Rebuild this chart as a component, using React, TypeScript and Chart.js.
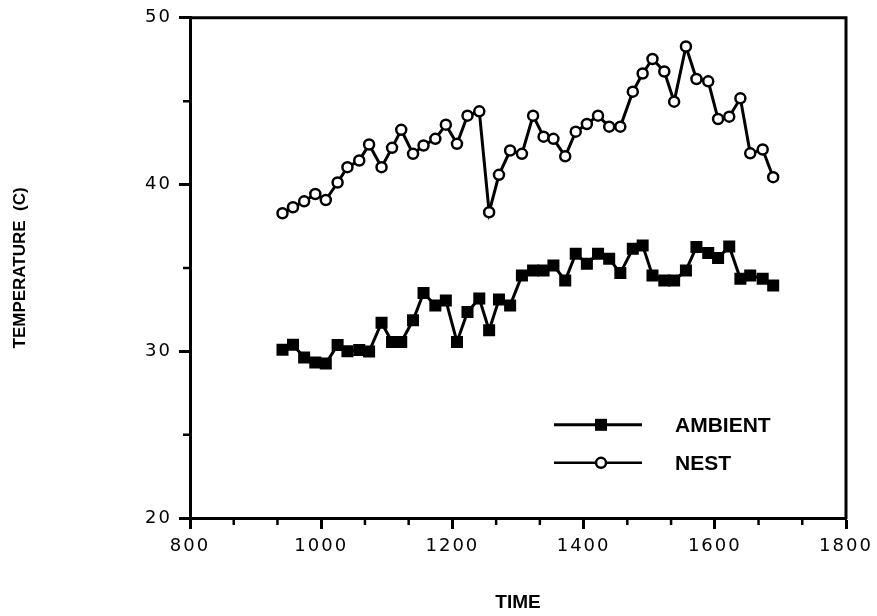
import React, { useEffect, useRef } from "react";
import { Chart, registerables } from "chart.js";

Chart.register(...registerables);

const times = [941, 957, 974, 991, 1007, 1025, 1040, 1058, 1073, 1092, 1108, 1122, 1140, 1156, 1174, 1190, 1207, 1223, 1241, 1256, 1271, 1288, 1306, 1323, 1339, 1354, 1372, 1388, 1405, 1422, 1439, 1456, 1475, 1490, 1505, 1523, 1538, 1556, 1572, 1590, 1605, 1622, 1639, 1654, 1673, 1689];

const ambient = [30.09, 30.39, 29.63, 29.33, 29.26, 30.38, 30.0, 30.08, 29.98, 31.71, 30.56, 30.56, 31.86, 33.49, 32.75, 33.05, 30.56, 32.35, 33.16, 31.26, 33.1, 32.75, 34.55, 34.85, 34.85, 35.15, 34.25, 35.85, 35.25, 35.85, 35.55, 34.69, 36.15, 36.35, 34.55, 34.25, 34.25, 34.85, 36.25, 35.89, 35.59, 36.29, 34.35, 34.55, 34.35, 33.95];

const nest = [38.28, 38.64, 38.99, 39.43, 39.07, 40.12, 41.04, 41.44, 42.4, 41.04, 42.2, 43.28, 41.84, 42.34, 42.74, 43.59, 42.44, 44.13, 44.39, 38.34, 40.58, 42.04, 41.84, 44.13, 42.87, 42.74, 41.69, 43.17, 43.63, 44.13, 43.47, 43.47, 45.57, 46.66, 47.53, 46.78, 44.97, 48.28, 46.33, 46.19, 43.93, 44.07, 45.17, 41.87, 42.1, 40.44];

const seriesNames = ["AMBIENT", "NEST"];
const xTitle = "TIME";
const yTitle = "TEMPERATURE  (C)";
const xRange = [800, 1800];
const yRange = [20, 50];
const xStep = 200;
const yStep = 10;

const framePlugin = {
  id: "frameAndLegend",
  afterDatasetsDraw(chart: any) {
    chart.ctx.letterSpacing = "2px";
  },
  afterDraw(chart: any) {
    const ctx = chart.ctx;
    ctx.letterSpacing = "0px";
    ctx.save();
    const { left, right, top, bottom } = chart.chartArea;
    ctx.strokeStyle = "#000";
    ctx.lineWidth = 3;
    ctx.beginPath();
    ctx.moveTo(left - 1, top);
    ctx.lineTo(right, top);
    ctx.lineTo(right, bottom + 1);
    ctx.stroke();

    const xs = chart.scales.x;
    const ys = chart.scales.y;
    ctx.lineWidth = 2.5;
    ctx.beginPath();
    for (let v = xRange[0]; v < xRange[1]; v += xStep) {
      for (let k = 1; k < 3; k++) {
        const px = xs.getPixelForValue(v + (xStep * k) / 3);
        ctx.moveTo(px, bottom);
        ctx.lineTo(px, bottom + 7);
      }
    }
    for (let v = yRange[0]; v < yRange[1]; v += yStep) {
      const py = ys.getPixelForValue(v + yStep / 2);
      ctx.moveTo(left, py);
      ctx.lineTo(left - 7, py);
    }
    ctx.stroke();

    const lx0 = left + 364;
    const lx1 = left + 452;
    const mx = left + 411;
    const ya = top + 407;
    const yn = top + 445;
    ctx.lineWidth = 3;
    ctx.beginPath();
    ctx.moveTo(lx0, ya);
    ctx.lineTo(lx1, ya);
    ctx.stroke();
    ctx.fillStyle = "#000";
    ctx.fillRect(mx - 6, ya - 6, 12, 12);

    ctx.lineWidth = 2.5;
    ctx.beginPath();
    ctx.moveTo(lx0, yn);
    ctx.lineTo(lx1, yn);
    ctx.stroke();
    ctx.beginPath();
    ctx.arc(mx, yn, 5, 0, Math.PI * 2);
    ctx.fillStyle = "#fff";
    ctx.fill();
    ctx.stroke();

    ctx.fillStyle = "#000";
    ctx.font = "bold 21px 'Liberation Sans', Arial, sans-serif";
    ctx.textAlign = "left";
    ctx.textBaseline = "middle";
    ctx.fillText(seriesNames[0], left + 485, ya + 1);
    ctx.fillText(seriesNames[1], left + 485, yn + 1);
    ctx.restore();
  },
};

const plainTick = (v: any) => String(v);

export default function App() {
  const ref = useRef<HTMLCanvasElement>(null);
  useEffect(() => {
    document.body.style.margin = "0";
    const canvas = ref.current;
    if (!canvas) return;
    const chart = new Chart(canvas, {
      type: "line",
      data: {
        datasets: [
          {
            label: seriesNames[0],
            data: times.map((t, i) => ({ x: t, y: ambient[i] })),
            borderColor: "#000",
            borderWidth: 3,
            pointStyle: "rect",
            pointRadius: 8.5,
            pointBackgroundColor: "#000",
            pointBorderColor: "#000",
            pointBorderWidth: 0,
            tension: 0,
          },
          {
            label: seriesNames[1],
            data: times.map((t, i) => ({ x: t, y: nest[i] })),
            borderColor: "#000",
            borderWidth: 3,
            pointStyle: "circle",
            pointRadius: 5,
            pointBackgroundColor: "#fff",
            pointBorderColor: "#000",
            pointBorderWidth: 2.5,
            tension: 0,
          },
        ],
      },
      options: {
        responsive: false,
        animation: false,
        events: [],
        layout: { padding: { top: 17, right: 31, left: 0, bottom: 0 } },
        plugins: { legend: { display: false }, tooltip: { enabled: false } },
        scales: {
          x: {
            type: "linear",
            min: xRange[0],
            max: xRange[1],
            afterFit: (s: any) => {
              s.height = 98;
            },
            ticks: {
              stepSize: xStep,
              color: "#000",
              padding: 7,
              z: 1,
              maxRotation: 0,
              callback: plainTick,
              font: { family: "'DejaVu Sans', sans-serif", size: 18 },
            },
            grid: {
              display: true,
              drawOnChartArea: false,
              drawTicks: true,
              tickLength: 11,
              tickWidth: 3,
              tickColor: "#000",
            },
            border: { display: true, color: "#000", width: 3 },
            title: {
              display: true,
              text: xTitle,
              color: "#000",
              font: { family: "'Liberation Sans', Arial, sans-serif", size: 19, weight: "bold" },
              padding: { top: 0, bottom: 2 },
            },
          },
          y: {
            type: "linear",
            min: yRange[0],
            max: yRange[1],
            afterFit: (s: any) => {
              s.width = 190;
            },
            ticks: {
              stepSize: yStep,
              color: "#000",
              padding: 7,
              z: 1,
              callback: plainTick,
              font: { family: "'DejaVu Sans', sans-serif", size: 18 },
            },
            grid: {
              display: true,
              drawOnChartArea: false,
              drawTicks: true,
              tickLength: 11,
              tickWidth: 3,
              tickColor: "#000",
            },
            border: { display: true, color: "#000", width: 3 },
            title: {
              display: true,
              text: yTitle,
              color: "#000",
              font: { family: "'Liberation Sans', Arial, sans-serif", size: 17, weight: "bold" },
              padding: { top: 10, bottom: 0 },
            },
          },
        },
      },
      plugins: [framePlugin],
    } as any);
    return () => chart.destroy();
  }, []);
  return (
    <div style={{ width: 877, height: 616, background: "#fff" }}>
      <canvas ref={ref} width={877} height={616} style={{ display: "block" }} />
    </div>
  );
}
